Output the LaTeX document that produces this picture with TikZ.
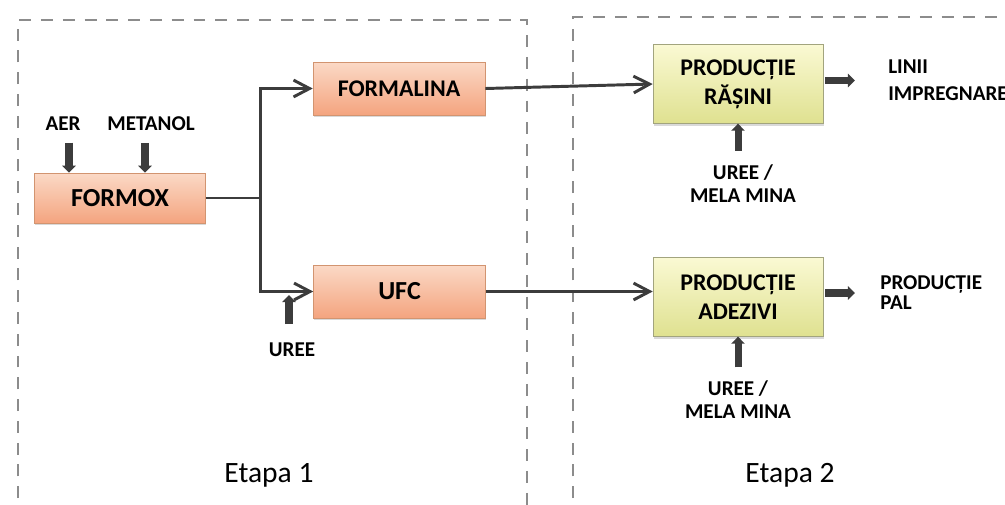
\documentclass[tikz,border=0pt]{standalone}
\usepackage{fontspec}
\setmainfont{Carlito}
\usetikzlibrary{arrows.meta,shadows,positioning}
\definecolor{orT}{HTML}{FBD9C6}
\definecolor{orD}{HTML}{F4A47F}
\definecolor{orB}{HTML}{D29470}
\definecolor{yeT}{HTML}{FAF9D3}
\definecolor{yeD}{HTML}{DFE190}
\definecolor{yeB}{HTML}{A2A47E}
\definecolor{lnc}{HTML}{3C3C3C}
\definecolor{dsh}{HTML}{8C8C8C}

\begin{document}
\begin{tikzpicture}
	\tikzstyle{Bo} = [draw=orB,top color=orT,bottom color=orD,minimum width=4.3cm,minimum height=1.32cm,drop shadow={opacity=0.3,shadow xshift=0.6pt,shadow yshift=-1.5pt},font=\bfseries\fontsize{17}{20.5}\selectfont]
	\tikzstyle{By} = [draw=yeB,top color=yeT,bottom color=yeD,minimum width=4.25cm,minimum height=1.97cm,align=center,drop shadow={opacity=0.3,shadow xshift=0.6pt,shadow yshift=-1.5pt},font=\bfseries\fontsize{17}{20.5}\selectfont]
	\tikzstyle{L} = [font=\bfseries\fontsize{15}{16.5}\selectfont,align=center,inner sep=0pt]
	\tikzstyle{con} = [line width=2.1pt,color=lnc]
	\tikzstyle{opn} = [-{Straight Barb[length=4mm,width=4.2mm]}]
	\tikzstyle{fat} = [-{Triangle[length=5pt,width=9.5pt]},line width=5pt,color=lnc]
	\tikzstyle{frame} = [line width=1.4pt,color=dsh,dash pattern=on 8.5pt off 7pt]
	\useasboundingbox (0,0) rectangle (25.125,-12.6);
	% stage frames
	\draw[frame] (0.45,-13) -- (0.45,-0.5) -- (13.175,-0.5) -- (13.175,-13);
	\draw[frame] (14.325,-13) -- (14.325,-0.425) -- (26,-0.425);
	\node[Bo,minimum width=4.275cm,minimum height=1.25cm,font=\bfseries\fontsize{18.5}{22}\selectfont](fx) at (3,-4.95) {FORMOX};
	\node[Bo,right of=fx,node distance=6.975cm,yshift=2.7375cm](fm) {FORMALINA};
	\node[Bo,right of=fx,node distance=6.9875cm,yshift=-2.3375cm,font=\bfseries\fontsize{18.5}{22}\selectfont](ufc) {UFC};
	\node[By,right of=fm,node distance=8.475cm,yshift=0.1125cm](rs) {PRODUCȚIE\\RĂȘINI};
	\node[By,below of=rs,node distance=5.325cm](ad) {PRODUCȚIE\\ADEZIVI};
	% inputs and outputs
	\node[L](aer) at (1.575,-3.1) {AER};
	\node[L,right of=aer,node distance=2.2cm](met) {METANOL};
	\node[L](ur) at (7.3,-8.75) {UREE};
	\node[L,below of=rs,node distance=2.4875cm,xshift=0.125cm](um1) {UREE /\\MELA MINA};
	\node[L,below of=ad,node distance=2.5625cm](um2) {UREE /\\MELA MINA};
	\node[L,anchor=west,align=left](li) at (22.2,-2.0125) {LINII\\[2.5pt]IMPREGNARE};
	\node[L,anchor=west,align=left](pal) at (22.0,-7.325) {PRODUCȚIE\\[-2.3pt]PAL};
	\node[font=\fontsize{21}{25}\selectfont](e1) at (6.725,-11.875) {Etapa 1};
	\node[font=\fontsize{21}{25}\selectfont](e2) at (19.75,-11.875) {Etapa 2};
	% flow
	\coordinate (br) at ([xshift=1.375cm]fx.east);
	\draw[con] (fx.east) -- (br);
	\draw[con,opn] (br) |- (fm.west);
	\draw[con,opn] (br) |- (ufc.west);
	\draw[con,opn] (fm.east) -- (rs.west);
	\draw[con,opn] (ufc.east) -- (ufc.east -| ad.west);
	\draw[fat,shorten <=0.29cm] ([xshift=0.15cm]aer.south) -- ([xshift=0.15cm]aer.south |- fx.north);
	\draw[fat,shorten <=0.29cm] ([xshift=-0.15cm]met.south) -- ([xshift=-0.15cm]met.south |- fx.north);
	\draw[fat,shorten <=0.47cm,shorten >=0.09cm] ([xshift=-0.075cm]ur.north) -- ([xshift=-0.075cm]ur.north |- ufc.west);
	\draw[fat,shorten <=0.34cm] (rs.south |- um1.north) -- (rs.south);
	\draw[fat,shorten <=0.32cm] (ad.south |- um2.north) -- (ad.south);
	\draw[fat,shorten <=0.05cm,shorten >=0.825cm] (li.west -| rs.east) -- (li.west);
	\draw[fat,shorten <=0.05cm,shorten >=0.625cm] (pal.west -| ad.east) -- (pal.west);
\end{tikzpicture}
\end{document}
